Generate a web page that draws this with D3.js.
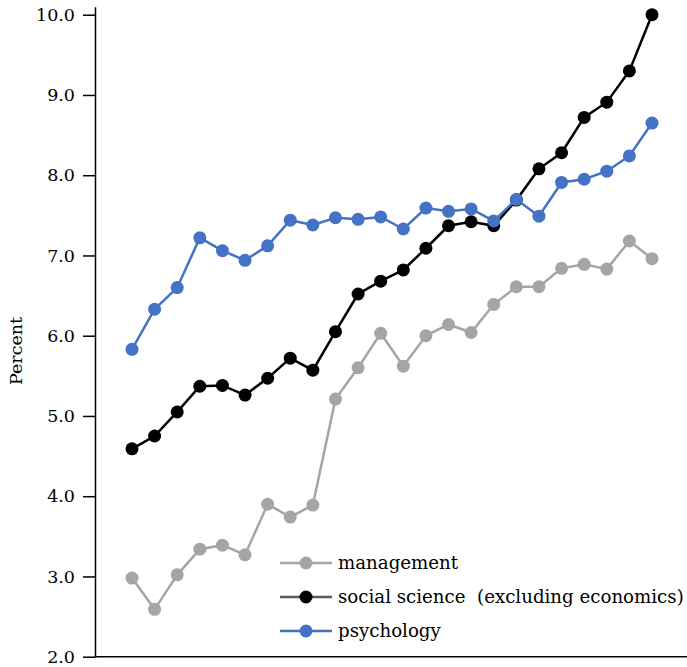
<!DOCTYPE html>
<html>
<head>
<meta charset="utf-8">
<script src="https://cdn.jsdelivr.net/npm/d3@7"></script>
<style>
  body { margin: 0; background: #fff; }
  svg { display: block; }
  text { font-family: "DejaVu Serif", serif; fill: #000; }
</style>
</head>
<body>
<div id="chart"></div>
<script>
// 24 periods, no x labels shown on the chart
const periods = ["p1","p2","p3","p4","p5","p6","p7","p8","p9","p10","p11","p12",
                 "p13","p14","p15","p16","p17","p18","p19","p20","p21","p22","p23","p24"];

const management = [2.98, 2.59, 3.02, 3.34, 3.39, 3.27, 3.90, 3.74, 3.89, 5.21, 5.60, 6.03,
                    5.62, 6.00, 6.14, 6.04, 6.39, 6.61, 6.61, 6.84, 6.89, 6.83, 7.18, 6.96];
const socialScience = [4.59, 4.75, 5.05, 5.37, 5.38, 5.26, 5.47, 5.72, 5.57, 6.05, 6.52, 6.68,
                       6.82, 7.09, 7.37, 7.42, 7.37, 7.69, 8.08, 8.28, 8.72, 8.91, 9.30, 10.0];
const psychology = [5.83, 6.33, 6.60, 7.22, 7.06, 6.94, 7.12, 7.44, 7.38, 7.47, 7.45, 7.48,
                    7.33, 7.59, 7.55, 7.58, 7.43, 7.70, 7.49, 7.91, 7.95, 8.05, 8.24, 8.65];

const yTicks = [2, 3, 4, 5, 6, 7, 8, 9, 10];

const seriesNames = ["management", "social science  (excluding economics)", "psychology"];
const seriesColors = ["#a5a5a5", "#000000", "#4472c4"];
const legendLineColors = ["#a5a5a5", "#595959", "#4472c4"];

const w = 687, h = 667;

const svg = d3.select("#chart").append("svg")
    .attr("width", w)
    .attr("height", h);

const x = d3.scalePoint().domain(periods).range([132, 652]);
const y = d3.scaleLinear().domain([2, 10.1]).range([656.7, 6.7]);

// y axis
const yAxis = d3.axisLeft(y)
    .tickValues(yTicks)
    .tickFormat(d3.format(".1f"))
    .tickSize(12)
    .tickSizeOuter(0)
    .tickPadding(8);

const gy = svg.append("g")
    .attr("transform", "translate(95,0)")
    .call(yAxis);
gy.select(".domain").attr("stroke", "#000").attr("stroke-width", 1.5);
gy.selectAll(".tick line").attr("stroke", "#000").attr("stroke-width", 1.5);
gy.selectAll(".tick text")
    .attr("font-family", "DejaVu Serif")
    .attr("font-size", 17.5)
    .attr("fill", "#000");

// bottom line
svg.append("line")
    .attr("x1", 95).attr("x2", w)
    .attr("y1", y(2)).attr("y2", y(2))
    .attr("stroke", "#000")
    .attr("stroke-width", 1.5);

svg.append("text")
    .attr("transform", `translate(22,351) rotate(-90)`)
    .attr("text-anchor", "middle")
    .attr("font-size", 17.5)
    .text("Percent");

const line = d3.line()
    .x((d, i) => x(periods[i]))
    .y(d => y(d));

const allSeries = [management, socialScience, psychology];

allSeries.forEach((vals, k) => {
    const g = svg.append("g");
    g.append("path")
        .datum(vals)
        .attr("fill", "none")
        .attr("stroke", seriesColors[k])
        .attr("stroke-width", 2.5)
        .attr("d", line);
    g.selectAll("circle")
        .data(vals)
        .enter()
        .append("circle")
        .attr("cx", (d, i) => x(periods[i]))
        .attr("cy", d => y(d))
        .attr("r", 6.5)
        .attr("fill", seriesColors[k]);
});

// legend
const legend = svg.append("g");
seriesNames.forEach((name, k) => {
    const ly = 563 + k * 34;
    legend.append("line")
        .attr("x1", 280).attr("x2", 332)
        .attr("y1", ly).attr("y2", ly)
        .attr("stroke", legendLineColors[k])
        .attr("stroke-width", 2.5);
    legend.append("circle")
        .attr("cx", 306).attr("cy", ly)
        .attr("r", 6.5)
        .attr("fill", seriesColors[k]);
    legend.append("text")
        .attr("x", 338).attr("y", ly + 6)
        .attr("font-size", 18.2)
        .style("white-space", "pre")
        .text(name);
});
</script>
</body>
</html>
